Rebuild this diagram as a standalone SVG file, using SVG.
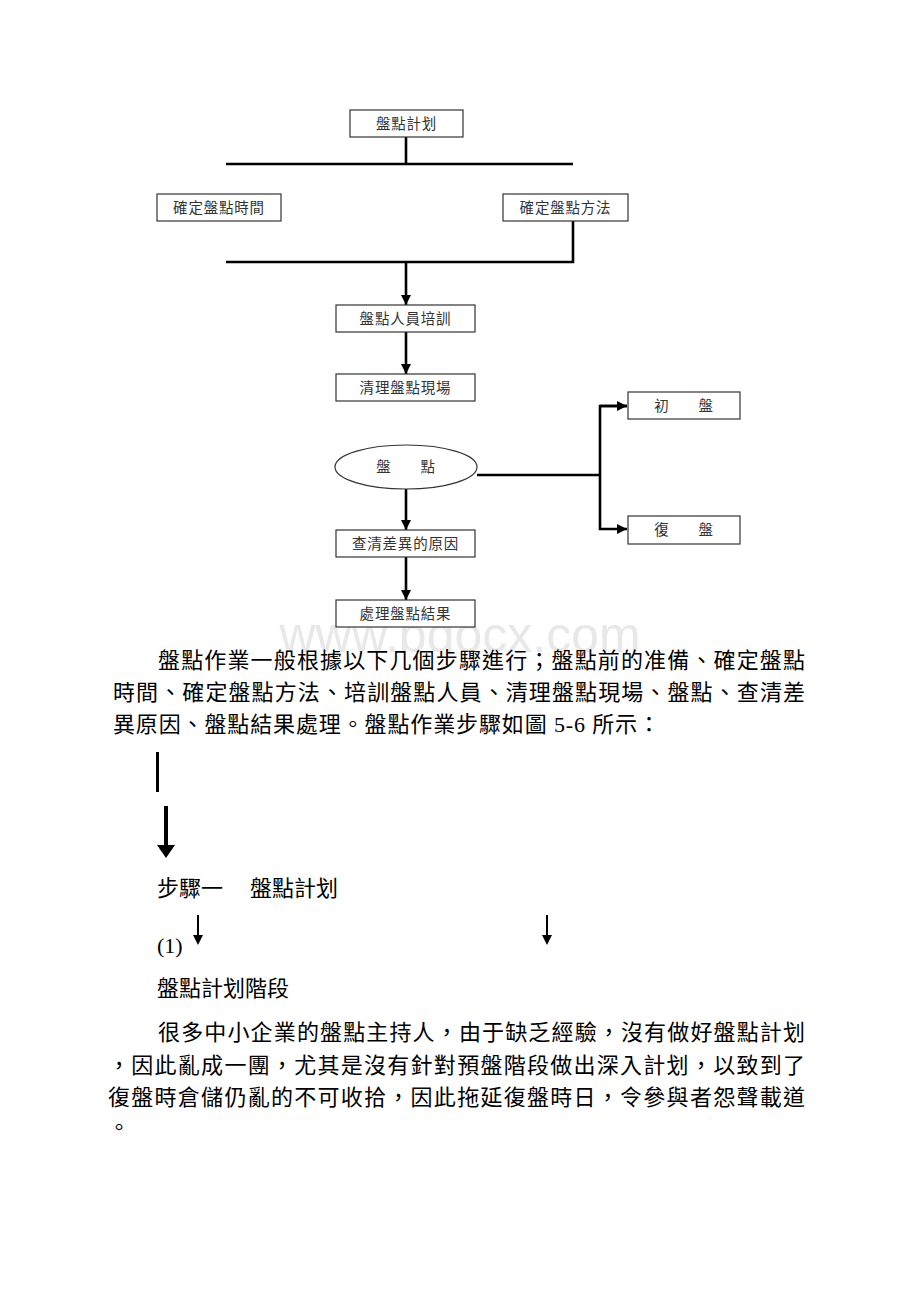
<svg xmlns="http://www.w3.org/2000/svg" width="920" height="1302" viewBox="0 0 920 1302">
<style>
.box{fill:#fff;stroke:#333;stroke-width:1.2}
.lbl{font-family:"Liberation Sans","Noto Sans CJK TC",sans-serif;font-size:14.5px;letter-spacing:0.8px;fill:#333;text-anchor:middle}
.ln{fill:none;stroke:#000;stroke-width:2.6}
.body{font-family:"Liberation Serif","Noto Sans CJK TC",serif;font-size:22px;fill:#000}
.wm{font-family:"Liberation Sans",Arial,sans-serif;font-size:50px;fill:#e8e8e8}
</style>
<defs>
<marker id="ah" viewBox="0 0 10 10" refX="10" refY="5" markerWidth="4" markerHeight="4" orient="auto" markerUnits="strokeWidth">
<path d="M0,0 L10,5 L0,10 z" fill="#000"/>
</marker>
</defs>
<rect width="920" height="1302" fill="#fff"/>
<text class="wm" x="460" y="652" text-anchor="middle">www.bdocx.com</text>

<g id="connectors">
<path class="ln" d="M406,137 V164"/>
<path class="ln" d="M226,164 H573"/>
<path class="ln" d="M573,221 V262 H226"/>
<path class="ln" d="M406,262 V305" marker-end="url(#ah)"/>
<path class="ln" d="M406,332 V374" marker-end="url(#ah)"/>
<path class="ln" d="M477,475 H600"/>
<path class="ln" d="M627,406 H600 V529 H627" marker-end="url(#ah)"/>
<path class="ln" d="M600,406 H627" marker-end="url(#ah)"/>
<path class="ln" d="M406,489 V530" marker-end="url(#ah)"/>
<path class="ln" d="M406,557 V600" marker-end="url(#ah)"/>
</g>

<g id="n-plan"><rect class="box" x="350" y="110" width="113" height="27"/><text class="lbl" x="406.5" y="129">盤點計划</text></g>
<g id="n-time"><rect class="box" x="157" y="194" width="124" height="27"/><text class="lbl" x="219" y="213">確定盤點時間</text></g>
<g id="n-method"><rect class="box" x="503" y="194" width="125" height="27"/><text class="lbl" x="565.5" y="213">確定盤點方法</text></g>
<g id="n-train"><rect class="box" x="336" y="305" width="139" height="27"/><text class="lbl" x="405.5" y="324">盤點人員培訓</text></g>
<g id="n-clean"><rect class="box" x="336" y="374" width="139" height="27"/><text class="lbl" x="405.5" y="393">清理盤點現場</text></g>
<g id="n-count"><ellipse class="box" cx="406" cy="467" rx="71" ry="22"/><text class="lbl" x="406" y="472" xml:space="preserve">盤      點</text></g>
<g id="n-first"><rect class="box" x="628" y="392" width="112" height="27"/><text class="lbl" x="684" y="411" xml:space="preserve">初      盤</text></g>
<g id="n-recount"><rect class="box" x="628" y="516" width="112" height="28"/><text class="lbl" x="684" y="535" xml:space="preserve">復      盤</text></g>
<g id="n-cause"><rect class="box" x="336" y="530" width="139" height="27"/><text class="lbl" x="405.5" y="549">查清差異的原因</text></g>
<g id="n-result"><rect class="box" x="336" y="600" width="139" height="27"/><text class="lbl" x="405.5" y="619">處理盤點結果</text></g>

<g id="body-text">
<text class="body" x="158" y="668" textLength="647" lengthAdjust="spacing">盤點作業一般根據以下几個步驟進行；盤點前的准備、確定盤點</text>
<text class="body" x="113" y="700" textLength="692" lengthAdjust="spacing">時間、確定盤點方法、培訓盤點人員、清理盤點現場、盤點、查清差</text>
<text class="body" x="113" y="732" textLength="547" lengthAdjust="spacing">異原因、盤點結果處理。盤點作業步驟如圖 5-6 所示：</text>
<text class="body" x="157" y="896">步驟一</text>
<text class="body" x="250" y="896">盤點計划</text>
<text class="body" x="157" y="953">(1)</text>
<text class="body" x="157" y="996">盤點計划階段</text>
<text class="body" x="158" y="1040" textLength="647" lengthAdjust="spacing">很多中小企業的盤點主持人，由于缺乏經驗，沒有做好盤點計划</text>
<text class="body" x="108" y="1073" textLength="697" lengthAdjust="spacing">，因此亂成一團，尤其是沒有針對預盤階段做出深入計划，以致到了</text>
<text class="body" x="108" y="1105" textLength="697" lengthAdjust="spacing">復盤時倉儲仍亂的不可收拾，因此拖延復盤時日，令參與者怨聲載道</text>
<text class="body" x="108" y="1135">。</text>
</g>

<g id="marks">
<rect x="156" y="752" width="3" height="40" fill="#000"/>
<rect x="164" y="806" width="4" height="40" fill="#000"/>
<path d="M157,845 H175 L166,858 z" fill="#000"/>
<rect x="197" y="915" width="2" height="22" fill="#000"/>
<path d="M193,935 H203 L198,945 z" fill="#000"/>
<rect x="546" y="915" width="2" height="22" fill="#000"/>
<path d="M542,935 H552 L547,945 z" fill="#000"/>
</g>
</svg>
